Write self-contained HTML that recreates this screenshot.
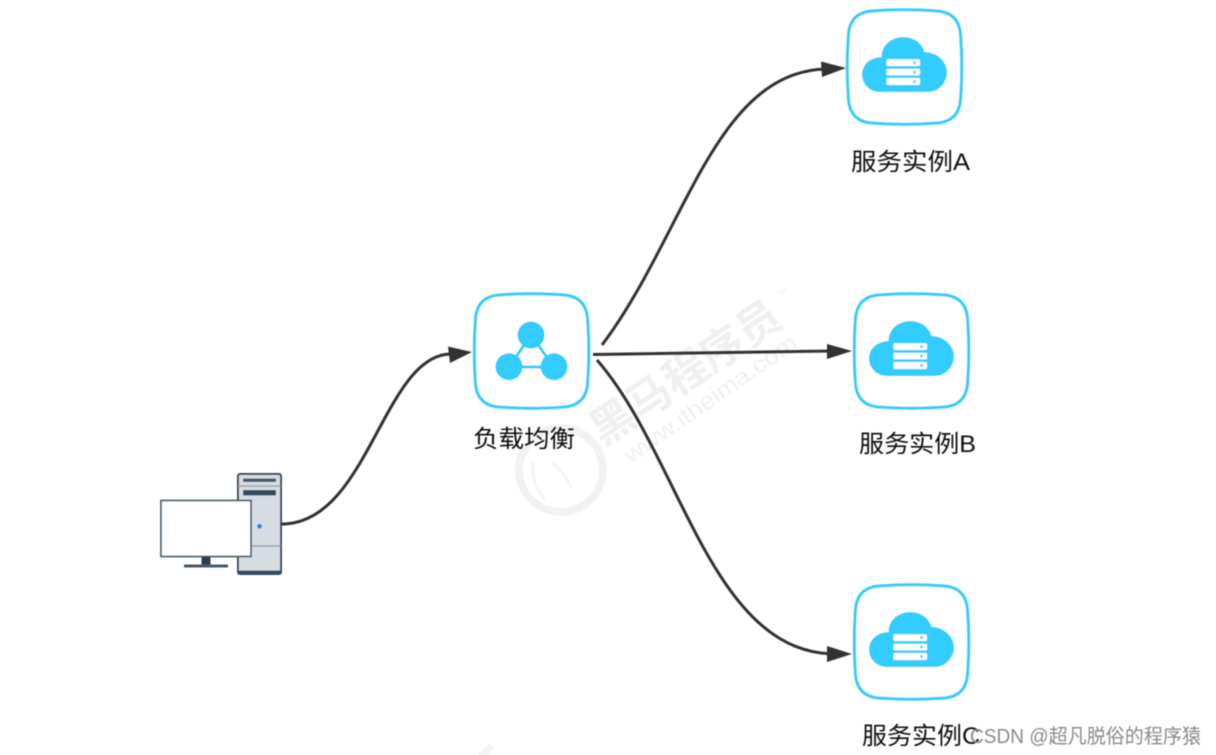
<!DOCTYPE html>
<html>
<head>
<meta charset="utf-8">
<style>
html,body{margin:0;padding:0;background:#fff;width:1216px;height:755px;overflow:hidden}
svg{display:block}
.t{font-family:"Liberation Sans","Noto Sans CJK SC",sans-serif;font-size:24px;fill:#111}
.w{font-family:"Liberation Sans","Noto Sans CJK SC",sans-serif;fill:#f0f0f0;font-weight:bold}
</style>
</head>
<body>
<svg width="1216" height="755" viewBox="0 0 1216 755" xmlns="http://www.w3.org/2000/svg">
<defs>
<filter id="b" x="-5%" y="-5%" width="110%" height="110%"><feGaussianBlur stdDeviation="0.5"/></filter>
<path id="sq" d="M-32,-56 C-12,-57.5 12,-57.5 32,-56 C47,-55 55,-47 56,-32 C57.5,-12 57.5,12 56,32 C55,47 47,55 32,56 C12,57.5 -12,57.5 -32,56 C-47,55 -55,47 -56,32 C-57.5,12 -57.5,-12 -56,-32 C-55,-47 -47,-55 -32,-56 Z" fill="#fff" stroke="#33ccff" stroke-width="3"/>
<g id="cloud">
<use href="#sq"/>
<path d="M-24,25 C-35,25 -42.5,17 -42.5,7.5 C-42.5,-2 -35,-9.5 -23,-10 C-23,-22 -13,-30 -1,-30 C10,-30 18,-23 20,-15 C33,-15 42.5,-5 42.5,5 C42.5,16 34,25 23,25 Z" fill="#33ccff"/>
<g fill="#fff">
<rect x="-18" y="-7.7" width="33.5" height="6.7" rx="1.2"/>
<rect x="-18" y="1.7" width="33.5" height="6.7" rx="1.2"/>
<rect x="-18" y="11" width="33.5" height="7" rx="1.2"/>
</g>
<g fill="#33ccff">
<circle cx="10" cy="-4.3" r="1.4"/>
<circle cx="10" cy="5" r="1.4"/>
<circle cx="10" cy="14.5" r="1.4"/>
</g>
</g>
</defs>

<!-- watermark -->
<g filter="url(#b)">
<text class="w" transform="translate(603,447) rotate(-34)" font-size="44">黑马程序员</text>
<text class="w" transform="translate(778,298) rotate(-34)" font-size="8" style="font-weight:normal">TM</text>
<text class="w" transform="translate(631,464) rotate(-35)" font-size="24" textLength="205" lengthAdjust="spacingAndGlyphs" style="font-weight:normal">www.itheima.com</text>
<circle cx="561" cy="470" r="42" fill="none" stroke="#f2f2f2" stroke-width="8"/>
<path d="M533,462 C532,480 538,495 546,500 M552,462 C560,470 568,478 571,488" fill="none" stroke="#f4f4f4" stroke-width="3"/>
<rect x="478" y="748" width="16" height="7" fill="#f3f3f3" transform="rotate(-45 486 751)"/>
</g>

<g filter="url(#b)">
<!-- connectors -->
<g fill="none" stroke="#333" stroke-width="3">
<path d="M282,524 C368,524 383,356 450,354"/>
<path d="M602,345 C685,235 714,73 825,69"/>
<path d="M593,354.5 L832,351"/>
<path d="M597,360 C680,455 710,650 832,654"/>
</g>
<g fill="#333">
<path d="M472,352 L448,346.5 L450,363 Z"/>
<path d="M846,68 L821,61.5 L822,77 Z"/>
<path d="M852,351 L827,344 L827,359 Z"/>
<path d="M852,654 L827,646 L827,662 Z"/>
</g>

<!-- PC -->
<rect x="238" y="474" width="43" height="100" rx="2" fill="#d6dce2" stroke="#34495e" stroke-width="2"/>
<path d="M238,572 H281" stroke="#34495e" stroke-width="3"/>
<path d="M238,486 H281 M238,546 H281" stroke="#8d99a5" stroke-width="1.3"/>
<rect x="243" y="478.5" width="33" height="3.5" fill="#46596d"/>
<rect x="243" y="490" width="33" height="5.5" rx="1" fill="#34495e"/>
<circle cx="259.5" cy="526.3" r="2.4" fill="#2f7fe6"/>
<rect x="161" y="500.5" width="90" height="56" fill="#fff" stroke="#4c6072" stroke-width="1.8"/>
<rect x="201.5" y="557" width="9" height="8" fill="#2c3e50"/>
<rect x="184" y="564.5" width="44" height="3" fill="#46596d"/>

<!-- load balancer -->
<use href="#sq" x="531.5" y="351"/>
<path d="M531,335 L509,367 H554 Z" fill="none" stroke="#33ccff" stroke-width="3"/>
<g fill="#33ccff">
<circle cx="531" cy="335" r="13.5"/>
<circle cx="509" cy="366.7" r="13.5"/>
<circle cx="554" cy="366.7" r="13.5"/>
</g>

<!-- services -->
<use href="#cloud" x="904.5" y="67"/>
<use href="#cloud" x="911.5" y="351"/>
<use href="#cloud" x="911.5" y="642"/>

<!-- labels -->
<text class="t" x="851" y="170" textLength="119" lengthAdjust="spacingAndGlyphs">服务实例A</text>
<text class="t" x="473" y="447" textLength="102" lengthAdjust="spacingAndGlyphs">负载均衡</text>
<text class="t" x="859" y="452" textLength="117" lengthAdjust="spacingAndGlyphs">服务实例B</text>
<text class="t" x="862" y="744" textLength="118" lengthAdjust="spacingAndGlyphs">服务实例C</text>
<text x="970" y="743" textLength="231" lengthAdjust="spacingAndGlyphs" style="font-family:'Liberation Sans','Noto Sans CJK SC',sans-serif;font-size:20px;fill:#8a8a8a">CSDN @超凡脱俗的程序猿</text>
</g>
</svg>
</body>
</html>
